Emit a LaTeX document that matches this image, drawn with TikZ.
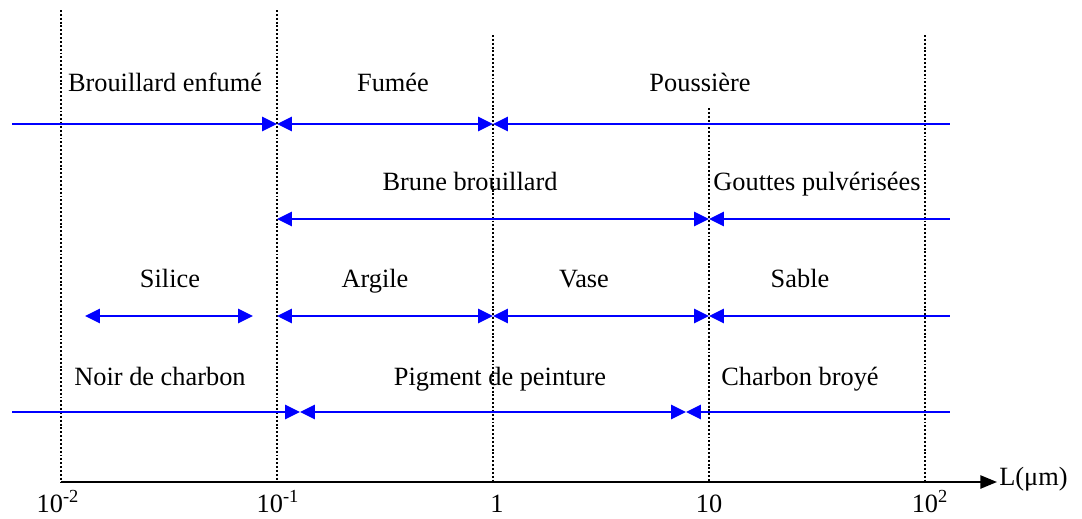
\documentclass[tikz,border=0pt]{standalone}
\usepackage{fontspec}
\setmainfont{Liberation Serif}
\usepackage{tikz}
\usetikzlibrary{arrows.meta}

\begin{document}
\begin{tikzpicture}[x=0.02cm,y=-0.02cm]
	\tikzstyle{every node}=[inner sep=0pt, font=\fontsize{15}{18}\selectfont];
	\tikzstyle{guide}=[draw=black, line width=0.7pt, dash pattern=on 1.1pt off 1.1pt];
	\tikzstyle{sizeline}=[draw=blue, line width=1.4pt, >={Triangle[length=8.5pt,width=8pt]}];
	\useasboundingbox (0,0) rectangle (1082,518);
	% dotted decade lines
	\coordinate (g0t) at (61,10);   \coordinate (g0b) at (61,482);
	\coordinate (g1t) at (277,10);  \coordinate (g1b) at (277,482);
	\coordinate (g2t) at (493,35);  \coordinate (g2b) at (493,482);
	\coordinate (g3t) at (709,108); \coordinate (g3b) at (709,482);
	\coordinate (g4t) at (925,35);  \coordinate (g4b) at (925,482);
	\draw[guide] (g0t) -- (g0b);
	\draw[guide] (g1t) -- (g1b);
	\draw[guide] (g2t) -- (g2b);
	\draw[guide] (g3t) -- (g3b);
	\draw[guide] (g4t) -- (g4b);
	% row 1
	\coordinate (r1a) at (12,124);
	\coordinate (r1b) at (277,124);
	\coordinate (r1c) at (493,124);
	\coordinate (r1d) at (950,124);
	\node [anchor=base] (t11) at (165,91) {Brouillard enfumé};
	\node [anchor=base] (t12) at (393,91) {Fumée};
	\node [anchor=base] (t13) at (700,91) {Poussière};
	\draw[sizeline,->] (r1a) -- (r1b);
	\draw[sizeline,<->] (r1b) -- (r1c);
	\draw[sizeline,<-] (r1c) -- (r1d);
	% row 2
	\coordinate (r2a) at (277,219);
	\coordinate (r2b) at (709,219);
	\coordinate (r2c) at (950,219);
	\node [anchor=base] (t21) at (470,190) {Brune brouillard};
	\node [anchor=base] (t22) at (817,190) {Gouttes pulvérisées};
	\draw[sizeline,<->] (r2a) -- (r2b);
	\draw[sizeline,<-] (r2b) -- (r2c);
	% row 3
	\coordinate (r3a) at (85,316);
	\coordinate (r3b) at (253,316);
	\coordinate (r3c) at (277,316);
	\coordinate (r3d) at (493,316);
	\coordinate (r3e) at (709,316);
	\coordinate (r3f) at (950,316);
	\node [anchor=base] (t31) at (170,287) {Silice};
	\node [anchor=base] (t32) at (375,287) {Argile};
	\node [anchor=base] (t33) at (584,287) {Vase};
	\node [anchor=base] (t34) at (800,287) {Sable};
	\draw[sizeline,<->] (r3a) -- (r3b);
	\draw[sizeline,<->] (r3c) -- (r3d);
	\draw[sizeline,<->] (r3d) -- (r3e);
	\draw[sizeline,<-] (r3e) -- (r3f);
	% row 4
	\coordinate (r4a) at (12,412);
	\coordinate (r4b) at (300,412);
	\coordinate (r4c) at (686,412);
	\coordinate (r4d) at (950,412);
	\node [anchor=base] (t41) at (160,385) {Noir de charbon};
	\node [anchor=base] (t42) at (500,385) {Pigment de peinture};
	\node [anchor=base] (t43) at (800,385) {Charbon broyé};
	\draw[sizeline,->] (r4a) -- (r4b);
	\draw[sizeline,<->] (r4b) -- (r4c);
	\draw[sizeline,<-] (r4c) -- (r4d);
	% axis
	\coordinate (ax0) at (61,482);
	\coordinate (ax1) at (997,482);
	\node [anchor=base west] (unit) at (999,485) {L(μm)};
	\draw[line width=1.2pt,-{Triangle[length=9.5pt,width=7.5pt]}] (ax0) -- (ax1);
	\node [anchor=base] (x0) at (58,512) {10\textsuperscript{-2}};
	\node [anchor=base] (x1) at (278,512) {10\textsuperscript{-1}};
	\node [anchor=base] (x2) at (497,512) {1};
	\node [anchor=base] (x3) at (709,512) {10};
	\node [anchor=base] (x4) at (930,512) {10\textsuperscript{2}};
\end{tikzpicture}
\end{document}
